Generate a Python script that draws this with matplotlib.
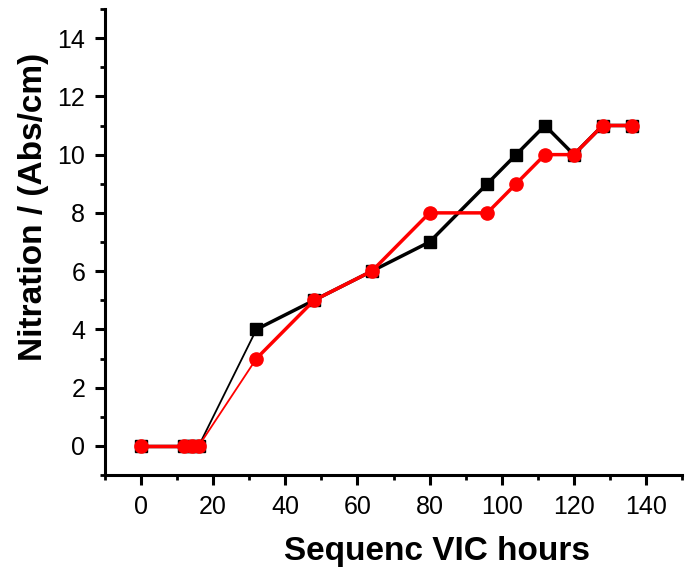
import numpy as np
import matplotlib.pyplot as plt
from matplotlib.ticker import MultipleLocator

plt.rcParams['font.family'] = ['Liberation Sans', 'DejaVu Sans']

# hours of sequence VIC
hours = [0, 12, 14, 16, 32, 48, 64, 80, 96, 104, 112, 120, 128, 136]
black_vals = [0, 0, 0, 0, 4, 5, 6, 7, 9, 10, 11, 10, 11, 11]
red_vals = [0, 0, 0, 0, 3, 5, 6, 8, 8, 9, 10, 10, 11, 11]

fig = plt.figure(figsize=(6.86, 5.76), dpi=100)
ax = fig.add_axes([105 / 686, 1 - 475 / 576, 577 / 686, 466 / 576])

# the 16 -> 32 h step is drawn thinner in the original
for vals, col, mk, ms, z in [(black_vals, 'black', 's', 8.5, 3), (red_vals, 'red', 'o', 9.5, 4)]:
    ax.plot(hours[:4], vals[:4], color=col, lw=2.5, zorder=z)
    ax.plot(hours[3:5], vals[3:5], color=col, lw=1.3, zorder=z)
    ax.plot(hours[4:], vals[4:], color=col, lw=2.5, zorder=z)
    ax.plot(hours, vals, ls='none', color=col, marker=mk, ms=ms, zorder=z)

ax.set_xlim(-10, 150)
ax.set_ylim(-1, 15)
ax.xaxis.set_major_locator(MultipleLocator(20))
ax.xaxis.set_minor_locator(MultipleLocator(10))
ax.yaxis.set_major_locator(MultipleLocator(2))
ax.yaxis.set_minor_locator(MultipleLocator(1))

for s in ['top', 'right']:
    ax.spines[s].set_visible(False)
for s in ['left', 'bottom']:
    ax.spines[s].set_linewidth(2.2)

ax.tick_params(which='major', direction='out', length=7.2, width=2.2, labelsize=18, pad=7)
ax.tick_params(which='minor', direction='out', length=3.5, width=2.0)

ax.set_xlabel('Sequenc VIC hours', fontsize=24, fontweight='bold')
ax.set_ylabel('Nitration / (Abs/cm)', fontsize=24, fontweight='bold')
ax.xaxis.set_label_coords(0.575, -0.131)
ax.yaxis.set_label_coords(-0.097, 0.576)

fig.savefig('out.png', dpi=100)
